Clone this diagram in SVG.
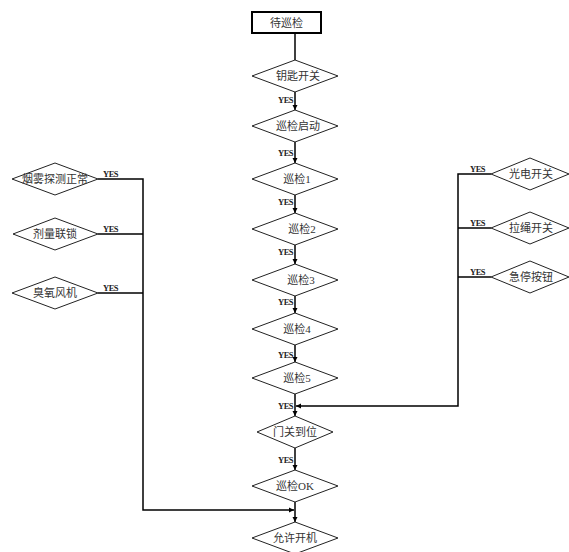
<svg xmlns="http://www.w3.org/2000/svg" width="569" height="552" viewBox="0 0 569 552">
  <style>
    .box { fill: #fff; stroke: #000; stroke-width: 2; }
    .dia { fill: #fff; stroke: #222; stroke-width: 1; }
    .lbl { font-family: "Liberation Serif", "Noto Sans CJK SC", serif; font-size: 11px; fill: #333; text-anchor: middle; }
    .yes { font-family: "Liberation Serif", serif; font-size: 8.5px; font-weight: bold; fill: #222; letter-spacing: -0.5px; }
    .wire { fill: none; stroke: #000; stroke-width: 1.5; }
  </style>
  <defs>
    <marker id="arrow" markerWidth="6" markerHeight="6" refX="5" refY="3" orient="auto" markerUnits="userSpaceOnUse">
      <path d="M0,0.5 L5,3 L0,5.5 Z" fill="#000"/>
    </marker>
  </defs>

  <rect width="569" height="552" fill="#fff"/>

  <!-- connectors -->
  <g id="connectors">
    <line class="wire" x1="295" y1="33" x2="295" y2="60"/>
    <line class="wire" x1="295" y1="92" x2="295" y2="110" marker-end="url(#arrow)"/>
    <line class="wire" x1="295" y1="142" x2="295" y2="163" marker-end="url(#arrow)"/>
    <line class="wire" x1="295" y1="195" x2="295" y2="213" marker-end="url(#arrow)"/>
    <line class="wire" x1="295" y1="245" x2="295" y2="264" marker-end="url(#arrow)"/>
    <line class="wire" x1="295" y1="296" x2="295" y2="313" marker-end="url(#arrow)"/>
    <line class="wire" x1="295" y1="345" x2="295" y2="362" marker-end="url(#arrow)"/>
    <line class="wire" x1="295" y1="394" x2="295" y2="416" marker-end="url(#arrow)"/>
    <line class="wire" x1="295" y1="448" x2="295" y2="470" marker-end="url(#arrow)"/>
    <line class="wire" x1="295" y1="502" x2="295" y2="522" marker-end="url(#arrow)"/>

    <!-- left interlocks -->
    <polyline class="wire" points="98,179 143,179 143,510 294,510" marker-end="url(#arrow)"/>
    <line class="wire" x1="98" y1="234" x2="143" y2="234"/>
    <line class="wire" x1="98" y1="293" x2="143" y2="293"/>

    <!-- right safety switches -->
    <polyline class="wire" points="491,174 458,174 458,406 296,406" marker-end="url(#arrow)"/>
    <line class="wire" x1="458" y1="228" x2="491" y2="228"/>
    <line class="wire" x1="458" y1="277" x2="491" y2="277"/>

    <!-- YES labels -->
    <text class="yes" x="278" y="103">YES</text>
    <text class="yes" x="278" y="156">YES</text>
    <text class="yes" x="278" y="205">YES</text>
    <text class="yes" x="278" y="255">YES</text>
    <text class="yes" x="278" y="305">YES</text>
    <text class="yes" x="278" y="358">YES</text>
    <text class="yes" x="278" y="409">YES</text>
    <text class="yes" x="278" y="463">YES</text>
    <text class="yes" x="103" y="177">YES</text>
    <text class="yes" x="103" y="232">YES</text>
    <text class="yes" x="103" y="291">YES</text>
    <text class="yes" x="470" y="172">YES</text>
    <text class="yes" x="470" y="226">YES</text>
    <text class="yes" x="470" y="275">YES</text>
  </g>

  <g id="wait">
    <rect class="box" x="252" y="12" width="69" height="21"/>
    <text class="lbl" x="286.5" y="27">待巡检</text>
  </g>
  <g id="key">
    <polygon class="dia" points="252,76 295,60 338,76 295,92"/>
    <text class="lbl" x="298" y="80">钥匙开关</text>
  </g>
  <g id="start">
    <polygon class="dia" points="252,126 295,110 338,126 295,142"/>
    <text class="lbl" x="298" y="130">巡检启动</text>
  </g>
  <g id="check1">
    <polygon class="dia" points="252,179 295,163 338,179 295,195"/>
    <text class="lbl" x="297" y="183">巡检1</text>
  </g>
  <g id="check2">
    <polygon class="dia" points="252,229 295,213 338,229 295,245"/>
    <text class="lbl" x="302" y="233">巡检2</text>
  </g>
  <g id="check3">
    <polygon class="dia" points="252,280 295,264 338,280 295,296"/>
    <text class="lbl" x="301" y="284">巡检3</text>
  </g>
  <g id="check4">
    <polygon class="dia" points="252,329 295,313 338,329 295,345"/>
    <text class="lbl" x="297" y="333">巡检4</text>
  </g>
  <g id="check5">
    <polygon class="dia" points="252,378 295,362 338,378 295,394"/>
    <text class="lbl" x="297" y="382">巡检5</text>
  </g>
  <g id="door">
    <polygon class="dia" points="257,432 295,416 333,432 295,448"/>
    <text class="lbl" x="295" y="436">门关到位</text>
  </g>
  <g id="checkok">
    <polygon class="dia" points="252,486 295,470 338,486 295,502"/>
    <text class="lbl" x="295" y="490">巡检OK</text>
  </g>
  <g id="allow">
    <polygon class="dia" points="252,538 295,522 338,538 295,554"/>
    <text class="lbl" x="295" y="542">允许开机</text>
  </g>

  <g id="smoke">
    <polygon class="dia" points="12,179 55,163 98,179 55,195"/>
    <text class="lbl" x="55" y="183">烟雾探测正常</text>
  </g>
  <g id="dose">
    <polygon class="dia" points="13,234 55,218 98,234 55,250"/>
    <text class="lbl" x="55" y="238">剂量联锁</text>
  </g>
  <g id="ozone">
    <polygon class="dia" points="12,293 55,277 98,293 55,309"/>
    <text class="lbl" x="55" y="297">臭氧风机</text>
  </g>

  <g id="photo">
    <polygon class="dia" points="491,174 530,158 569,174 530,190"/>
    <text class="lbl" x="531" y="178">光电开关</text>
  </g>
  <g id="rope">
    <polygon class="dia" points="491,228 530,212 569,228 530,244"/>
    <text class="lbl" x="531" y="232">拉绳开关</text>
  </g>
  <g id="estop">
    <polygon class="dia" points="491,277 530,261 569,277 530,293"/>
    <text class="lbl" x="531" y="281">急停按钮</text>
  </g>
</svg>
